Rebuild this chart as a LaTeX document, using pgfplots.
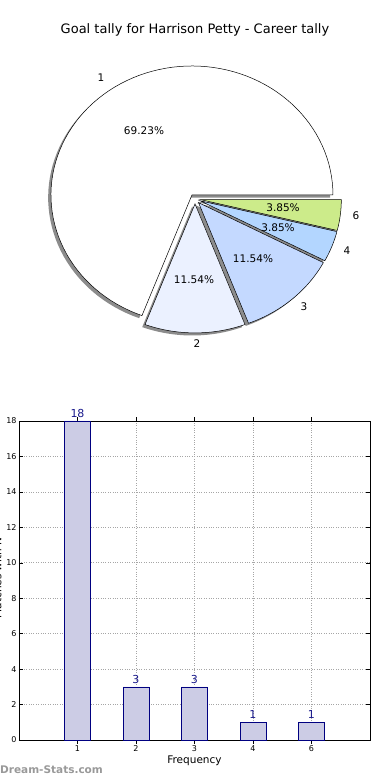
\documentclass[border=0pt]{standalone}
\usepackage{fontspec}
\setmainfont{DejaVu Sans}
\usepackage{pgfplots}
\pgfplotsset{compat=1.18}
\definecolor{sA}{HTML}{FFFFFF}
\definecolor{sB}{HTML}{EBF1FF}
\definecolor{sC}{HTML}{C4D9FF}
\definecolor{sD}{HTML}{B3D6FF}
\definecolor{sE}{HTML}{CCEB8A}
\definecolor{barfill}{HTML}{CCCCE5}
\definecolor{navy}{HTML}{000080}
\definecolor{labblue}{HTML}{1A1A8C}
\definecolor{shadowgray}{HTML}{8C8C8C}
\definecolor{wm}{HTML}{999999}
% apex x, apex y, start angle, end angle, fill, draw
\newcommand{\pieslice}[6]{%
  \addplot[#6, fill=#5, line width=0.5pt, domain=#3:#4, samples=90, variable=\t, line join=miter]
    ({#1+141*cos(t)},{#2+129*sin(t)}) -- (axis cs:#1,#2) -- cycle;
}
\begin{document}
\begin{tikzpicture}[x=1pt,y=1pt]
\useasboundingbox (0,0) rectangle (390,780);
% ---------- pie ----------
\begin{axis}[at={(0pt,420pt)}, anchor=south west, scale only axis,
  width=390pt, height=320pt, xmin=0, xmax=390, ymin=420, ymax=740,
  hide axis, clip=false]
% shadows (offset -2.8, -2.6)
\pieslice{189.16}{582.43}{0}{249.2308}{shadowgray}{draw=none}
\pieslice{192.20}{573.50}{249.2308}{290.7692}{shadowgray}{draw=none}
\pieslice{195.75}{574.73}{290.7692}{332.3077}{shadowgray}{draw=none}
\pieslice{197.21}{576.66}{332.3077}{346.1538}{shadowgray}{draw=none}
\pieslice{197.52}{577.81}{346.1538}{360}{shadowgray}{draw=none}
% slices: values 18, 3, 3, 1, 1 (categories 1, 2, 3, 4, 6)
\pieslice{191.96}{585.03}{0}{249.2308}{sA}{draw=black}
\pieslice{195.00}{576.10}{249.2308}{290.7692}{sB}{draw=black}
\pieslice{198.55}{577.33}{290.7692}{332.3077}{sC}{draw=black}
\pieslice{200.01}{579.26}{332.3077}{346.1538}{sD}{draw=black}
\pieslice{200.32}{580.41}{346.1538}{360}{sE}{draw=black}
\begin{scope}[every node/.style={font=\fontsize{10.5}{12}\selectfont}]
\node at (axis cs:101,702) {1};
\node at (axis cs:144,649) {69.23\%};
\node at (axis cs:197,436) {2};
\node at (axis cs:194,500) {11.54\%};
\node at (axis cs:304,473) {3};
\node at (axis cs:253,521) {11.54\%};
\node at (axis cs:347,529) {4};
\node at (axis cs:278,552) {3.85\%};
\node at (axis cs:356,564) {6};
\node at (axis cs:283,572) {3.85\%};
\end{scope}
\node[font=\fontsize{13}{15}\selectfont] at (axis cs:195,750) {Goal tally for Harrison Petty - Career tally};
\end{axis}
% ---------- bars ----------
\begin{axis}[at={(19pt,40pt)}, anchor=south west, scale only axis,
  width=351pt, height=319pt,
  xmin=0, xmax=6, ymin=0, ymax=18,
  ytick={0,2,...,18}, xtick={1,2,3,4,5}, xticklabels={1,2,3,4,6},
  /pgf/number format/assume math mode=true,
  ticklabel style={font=\fontsize{8}{9}\selectfont},
  xticklabel style={yshift=1pt},
  yticklabel style={xshift=1pt},
  tick align=inside, major tick length=3.5pt,
  tick style={black, line width=0.5pt},
  grid=major, grid style={dotted, black!35, line width=0.7pt},
  axis line style={line width=0.8pt},
  xlabel={Frequency},
  xlabel style={font=\fontsize{10.5}{12}\selectfont, yshift=3pt},
  ybar, bar width=0.44,
  nodes near coords,
  nodes near coords style={font=\fontsize{11}{12}\selectfont, text=labblue, inner sep=3pt},
  clip=false]
\addplot[draw=navy, fill=barfill, line width=0.6pt] coordinates {(1,18) (2,3) (3,3) (4,1) (5,1)};
\end{axis}
\node[rotate=90, anchor=base, font=\fontsize{10.5}{12}\selectfont] at (1.5,202) {Matches with N};
\node[anchor=west, inner sep=0pt, font=\bfseries\fontsize{10.5}{12}\selectfont, text=wm] at (0,10) {Dream-Stats.com};
\end{tikzpicture}
\end{document}
